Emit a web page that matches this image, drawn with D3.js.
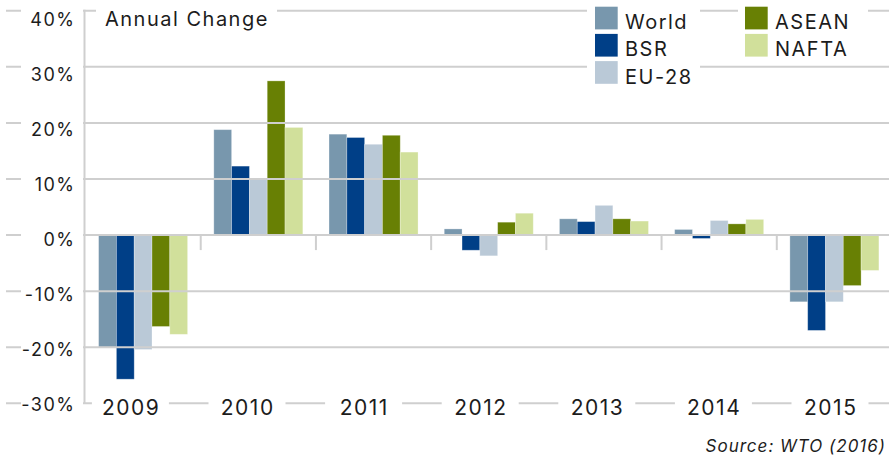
<!DOCTYPE html>
<html>
<head>
<meta charset="utf-8">
<script src="https://cdn.jsdelivr.net/npm/d3@7"></script>
<style>
  html, body { margin: 0; padding: 0; background: #fff; }
  svg { display: block; font-family: Inter, "Noto Sans", sans-serif; }
</style>
</head>
<body>
<svg id="chart" width="889" height="460"></svg>
<script>
const years = ["2009", "2010", "2011", "2012", "2013", "2014", "2015"];
const seriesNames = ["World", "BSR", "EU-28", "ASEAN", "NAFTA"];
const seriesColors = ["#7897ad", "#003f87", "#bac9d7", "#688004", "#d1e09b"];
const world = [-20.0, 18.8, 18.0, 1.1, 2.9, 1.0, -11.9];
const bsr   = [-25.7, 12.3, 17.4, -2.7, 2.4, -0.6, -17.0];
const eu28  = [-20.4, 10.1, 16.2, -3.7, 5.3, 2.6, -11.9];
const asean = [-16.3, 27.5, 17.8, 2.3, 2.9, 2.0, -9.0];
const nafta = [-17.7, 19.2, 14.8, 3.9, 2.5, 2.8, -6.3];
const yTicks = [40, 30, 20, 10, 0, -10, -20, -30];
const titleText = "Annual Change";
const sourceText = "Source: WTO (2016)";

const seriesValues = [world, bsr, eu28, asean, nafta];
const rows = [];
seriesNames.forEach((s, si) => years.forEach((yr, yi) => rows.push({ series: s, year: yr, value: seriesValues[si][yi] })));

const svg = d3.select("#chart");
const gridColor = "#cfcfcf";
const textColor = "#1c1c1c";
const ls = 1.5;

const y = d3.scaleLinear().domain([-30, 40]).range([403.3, 10.8]);
const yLabel = d3.scaleLinear().domain([-30, 40]).range([404.2, 19.7]);
const x0 = d3.scaleBand().domain(years).range([85.5, 892]).paddingInner(0).paddingOuter(0);
const x1 = d3.scaleBand().domain(seriesNames).range([0, x0.bandwidth()]).paddingInner(0).paddingOuter(0.736);
const xLabel = d3.scalePoint().domain(years).range([130.4, 830]);
const color = d3.scaleOrdinal().domain(seriesNames).range(seriesColors);

// bars
svg.append("g").selectAll("rect").data(rows).join("rect")
  .attr("x", d => x0(d.year) + x1(d.series))
  .attr("width", x1.bandwidth())
  .attr("y", d => y(Math.max(0, d.value)))
  .attr("height", d => Math.abs(y(d.value) - y(0)))
  .attr("fill", d => color(d.series))
  .attr("stroke", "#ffffff").attr("stroke-opacity", 0.35).attr("stroke-width", 0.8);

// gridlines (drawn over bars)
svg.append("g").selectAll("line").data(yTicks).join("line")
  .attr("x1", 6).attr("x2", 889)
  .attr("y1", d => y(d)).attr("y2", d => y(d))
  .attr("stroke", gridColor).attr("stroke-width", 2);

// category boundary ticks below zero line
svg.append("g").selectAll("line").data(years.slice(1)).join("line")
  .attr("x1", d => x0(d)).attr("x2", d => x0(d))
  .attr("y1", y(0)).attr("y2", y(0) + 15)
  .attr("stroke", gridColor).attr("stroke-width", 2);

// y labels with white backgrounds
const yl = svg.append("g");
yl.selectAll("rect").data(yTicks).join("rect")
  .attr("x", 21).attr("width", 62)
  .attr("y", d => yLabel(d) - 14).attr("height", 26)
  .attr("fill", "#fff");
yl.selectAll("text").data(yTicks).join("text")
  .attr("x", 74 + ls).attr("y", d => yLabel(d))
  .attr("text-anchor", "end").attr("dominant-baseline", "central")
  .attr("font-size", 18).attr("letter-spacing", ls).attr("fill", textColor)
  .text(d => d + "%");

// vertical axis line
svg.append("line")
  .attr("x1", 84.5).attr("x2", 84.5).attr("y1", y(40) - 1).attr("y2", y(-30))
  .attr("stroke", gridColor).attr("stroke-width", 2);

// x labels
const xl = svg.append("g");
xl.selectAll("rect").data(years).join("rect")
  .attr("x", d => xLabel(d) - 38.5).attr("width", 77)
  .attr("y", y(-30) - 8).attr("height", 18)
  .attr("fill", "#fff");
xl.selectAll("text").data(years).join("text")
  .attr("x", d => xLabel(d) + ls / 2).attr("y", 407.5)
  .attr("text-anchor", "middle").attr("dominant-baseline", "central")
  .attr("font-size", 21).attr("letter-spacing", ls).attr("fill", textColor)
  .text(d => d);

// title
svg.append("rect").attr("x", 96).attr("y", 2).attr("width", 181).attr("height", 28).attr("fill", "#fff");
svg.append("text").attr("x", 105).attr("y", 25.5)
  .attr("font-size", 20).attr("letter-spacing", ls).attr("fill", textColor).text(titleText);

// legend
const legendCols = [seriesNames.slice(0, 3), seriesNames.slice(3)];
svg.append("rect").attr("x", 587).attr("y", 2).attr("width", 113).attr("height", 88).attr("fill", "#fff");
svg.append("rect").attr("x", 738).attr("y", 2).attr("width", 130).attr("height", 58).attr("fill", "#fff");
const colX = [595, 745];
legendCols.forEach((col, ci) => {
  const g = svg.append("g");
  g.selectAll("rect").data(col).join("rect")
    .attr("x", colX[ci]).attr("y", (d, i) => 6.7 + i * 27.2)
    .attr("width", 22.7).attr("height", 22.7)
    .attr("fill", d => color(d));
  g.selectAll("text").data(col).join("text")
    .attr("x", colX[ci] + 30).attr("y", (d, i) => 6.7 + i * 27.2 + 22.5)
    .attr("font-size", 20).attr("letter-spacing", ls).attr("fill", textColor)
    .text(d => d);
});

// source
svg.append("text").attr("x", 886).attr("y", 452)
  .attr("text-anchor", "end")
  .attr("font-size", 17).attr("font-style", "italic").attr("letter-spacing", 1.0).attr("fill", textColor)
  .text(sourceText);
</script>
</body>
</html>
